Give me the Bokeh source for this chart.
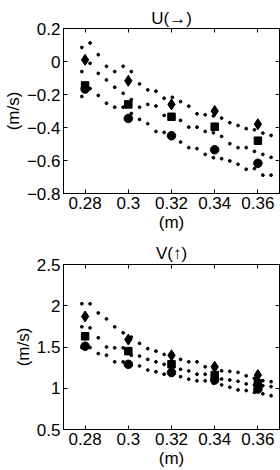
from bokeh.plotting import figure
from bokeh.layouts import column
from bokeh.models import LinearAxis, FixedTicker, Range1d
from bokeh.embed import file_html
from bokeh.resources import INLINE

# ---------------- data ----------------
x_pos = [0.28, 0.30, 0.32, 0.34, 0.36]
x_ticks = [0.28, 0.30, 0.32, 0.34, 0.36]
x_tick_labels = ["0.28", "0.3", "0.32", "0.34", "0.36"]

x_fit = [0.2785, 0.2823, 0.2861, 0.2899, 0.2937, 0.2976, 0.3014, 0.3052,
         0.3090, 0.3128, 0.3166, 0.3204, 0.3242, 0.3280, 0.3318, 0.3356,
         0.3394, 0.3432, 0.3470, 0.3508, 0.3546, 0.3584, 0.3623, 0.3661]

# U panel
u_title = "U(\u2192)"
u_yticks = [-0.8, -0.6, -0.4, -0.2, 0.0, 0.2]
u_ytick_labels = ["\u22120.8", "\u22120.6", "\u22120.4", "\u22120.2", "0", "0.2"]
u_diamond = [0.01, -0.117, -0.26, -0.30, -0.38]
u_square = [-0.145, -0.26, -0.335, -0.395, -0.48]
u_circle = [-0.167, -0.345, -0.45, -0.535, -0.617]
u_fit_upper = [0.085, 0.112, 0.041, -0.029, -0.061, -0.029, -0.061, -0.136,
               -0.172, -0.180, -0.223, -0.217, -0.243, -0.271, -0.317, -0.323,
               -0.330, -0.343, -0.371, -0.388, -0.407, -0.414, -0.434, -0.448]
u_fit_middle = [-0.061, -0.011, -0.072, -0.112, -0.156, -0.193, -0.231, -0.277,
                -0.260, -0.270, -0.327, -0.339, -0.357, -0.398, -0.398, -0.424,
                -0.432, -0.454, -0.498, -0.522, -0.522, -0.545, -0.563, -0.581]
u_fit_lower = [-0.212, -0.164, -0.206, -0.253, -0.277, -0.277, -0.315, -0.351,
               -0.377, -0.424, -0.430, -0.460, -0.488, -0.522, -0.528, -0.563,
               -0.583, -0.589, -0.603, -0.623, -0.653, -0.649, -0.689, -0.689]

# V panel
v_title = "V(\u2191)"
v_yticks = [0.5, 1.0, 1.5, 2.0, 2.5]
v_ytick_labels = ["0.5", "1", "1.5", "2", "2.5"]
v_diamond = [1.87, 1.59, 1.40, 1.26, 1.16]
v_square = [1.63, 1.45, 1.29, 1.16, 1.06]
v_circle = [1.51, 1.29, 1.19, 1.10, 0.99]
v_fit_upper = [2.024, 2.024, 1.912, 1.840, 1.744, 1.672, 1.620, 1.544,
               1.480, 1.450, 1.410, 1.380, 1.350, 1.320, 1.320, 1.260,
               1.240, 1.211, 1.204, 1.192, 1.151, 1.120, 1.092, 1.080]
v_fit_middle = [1.745, 1.732, 1.612, 1.500, 1.490, 1.490, 1.400, 1.390,
                1.350, 1.320, 1.290, 1.260, 1.230, 1.210, 1.170, 1.170,
                1.140, 1.112, 1.100, 1.084, 1.052, 1.040, 1.030, 1.020]
v_fit_lower = [1.493, 1.493, 1.420, 1.400, 1.320, 1.320, 1.280, 1.270,
               1.220, 1.200, 1.170, 1.160, 1.140, 1.110, 1.090, 1.090,
               1.060, 1.040, 1.012, 0.980, 0.972, 0.950, 0.932, 0.910]

x_range = (0.27, 0.37)
x_label = "(m)"
y_label = "(m/s)"

FONT = "Liberation Sans"
FS = "17px"


def panel(title, y_range, yticks, ylabels, fits, diamond, square, circle,
          height, border_top, border_bottom, title_standoff):
    p = figure(width=280, height=height, output_backend="svg",
               toolbar_location=None,
               x_range=Range1d(*x_range), y_range=Range1d(*y_range),
               min_border_left=57, min_border_right=1,
               min_border_top=border_top, min_border_bottom=border_bottom)
    p.title.text = title
    p.title.align = "center"
    p.title.text_font = FONT
    p.title.text_font_size = FS
    p.title.text_font_style = "normal"
    p.title.text_color = "black"
    p.title.standoff = title_standoff
    p.title.offset = 0
    p.grid.visible = False
    p.background_fill_color = "white"
    p.border_fill_color = "white"
    p.outline_line_color = "black"
    p.outline_line_width = 1
    p.outline_line_alpha = 1

    xt = FixedTicker(ticks=x_ticks, minor_ticks=[])
    yt = FixedTicker(ticks=yticks, minor_ticks=[])

    ax = p.xaxis[0]
    ax.ticker = xt
    ax.major_label_overrides = dict(zip(x_ticks, x_tick_labels))
    ax.axis_label = x_label
    ay = p.yaxis[0]
    ay.ticker = yt
    ay.major_label_overrides = dict(zip(yticks, ylabels))
    ay.axis_label = y_label
    for a in (ax, ay):
        a.major_tick_in = 4
        a.major_tick_out = 0
        a.minor_tick_line_color = None
        a.axis_line_color = "black"
        a.major_tick_line_color = "black"
        a.major_label_text_font = FONT
        a.major_label_text_font_size = FS
        a.major_label_text_color = "black"
        a.axis_label_text_font = FONT
        a.axis_label_text_font_size = FS
        a.axis_label_text_font_style = "normal"
        a.axis_label_text_color = "black"
        a.major_label_standoff = 3
        a.axis_label_standoff = 1

    for loc, tk, ticks in (("right", yt, yticks), ("above", xt, x_ticks)):
        extra = LinearAxis(ticker=tk)
        extra.major_tick_in = 4
        extra.major_tick_out = 0
        extra.minor_tick_line_color = None
        extra.axis_line_color = None
        extra.major_label_overrides = {t: "" for t in ticks}
        extra.major_label_text_font_size = "1px"
        extra.major_label_standoff = 0
        extra.major_tick_line_color = "black"
        p.add_layout(extra, loc)

    for fy in fits:
        p.scatter(x_fit, fy, marker="circle", size=2.8, color="black")
    p.scatter(x_pos, diamond, marker="diamond", size=11, color="black")
    p.scatter(x_pos, square, marker="square", size=7.5, color="black")
    p.scatter(x_pos, circle, marker="circle", size=8.5, color="black")
    return p


p1 = panel(u_title, (-0.8, 0.2), u_yticks, u_ytick_labels,
           [u_fit_upper, u_fit_middle, u_fit_lower],
           u_diamond, u_square, u_circle, 235, 28, 42, 1)
p2 = panel(v_title, (0.5, 2.5), v_yticks, v_ytick_labels,
           [v_fit_upper, v_fit_middle, v_fit_lower],
           v_diamond, v_square, v_circle, 235, 29, 39, 3)

layout = column(p1, p2, spacing=0)
open("out.html", "w").write(file_html(layout, INLINE))
